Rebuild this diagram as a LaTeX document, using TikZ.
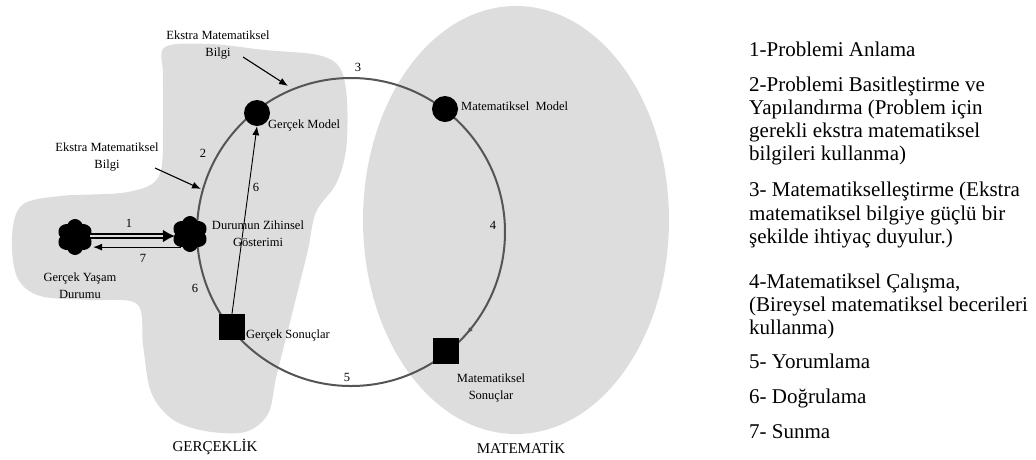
\documentclass[tikz,border=0pt]{standalone}
\usepackage{fontspec}
\setmainfont{Liberation Serif}
\usetikzlibrary{shapes.symbols,arrows.meta}
\definecolor{zone}{RGB}{221,221,221}
\definecolor{ring}{RGB}{85,85,85}
\begin{document}
\begin{tikzpicture}[x=1pt,y=-1pt,
  lbl/.style={font=\fontsize{12.5}{17}\selectfont, inner sep=0pt, align=center},
  num/.style={font=\fontsize{12.5}{15}\selectfont, inner sep=0pt},
  area/.style={font=\fontsize{15}{18}\selectfont, inner sep=0pt},
  listpar/.style={font=\fontsize{21}{23.3}\selectfont, inner sep=0pt, anchor=base west, align=left},
  flower/.style={cloud, cloud puffs=6, cloud puff arc=140, aspect=1, shape border rotate=0, fill=black, inner sep=0pt, minimum width=36pt, minimum height=36pt},
  dot/.style={circle, fill=black, inner sep=0pt, minimum size=26pt},
  sq/.style={rectangle, fill=black, inner sep=0pt, minimum size=26pt},
  thinarrow/.style={-{Latex[length=9pt,width=7pt]}, line width=1.1pt},
]
\useasboundingbox (0,0) rectangle (1036,459);

% reality region (irregular blob) and mathematics region (ellipse)
\fill[zone] plot[smooth cycle, tension=0.55] coordinates {
  (165,47) (210,44) (265,50) (318,55) (340,68) (347,100) (346,150)
  (336,184) (316,212) (308,250) (298,290) (286,338) (276,378) (268,414)
  (245,432) (205,431) (172,419) (151,392) (143,345) (137,304)
  (90,300) (40,296) (17,277) (12,236) (22,205) (60,196) (128,192)
  (159,176) (163,125) (163,75)};
\fill[zone] (516,220) ellipse [x radius=153, y radius=214];

% modelling cycle
\coordinate (c) at (351,232);
\draw[ring, line width=2pt] (c) circle [radius=154];

% stations of the cycle
\node[flower] (gy)  at (75,237)  {};
\node[flower] (dur) at (190,234) {};
\node[dot]    (gm)  at (257,113) {};
\node[dot]    (mm)  at (445,109) {};
\node[sq]     (gs)  at (232,327) {};
\node[sq]     (ms)  at (446,351) {};

% station labels
\node[lbl] (gyl)  at (80,286)  {Gerçek Yaşam\\Durumu};
\node[lbl] (durl) at (258,234) {Durumun Zihinsel\\Gösterimi};
\node[lbl, anchor=west] (gml) at (268,125) {Gerçek Model};
\node[lbl, anchor=west] (mml) at (461,106) {Matematiksel\ \ Model};
\node[lbl, anchor=west] (gsl) at (246,335) {Gerçek Sonuçlar};
\node[lbl] (msl)  at (491,388) {Matematiksel\\Sonuçlar};

% extra-mathematical knowledge pointers
\node[lbl] (ek1) at (218,45)  {Ekstra Matematiksel\\Bilgi};
\node[lbl] (ek2) at (107,157) {Ekstra Matematiksel\\Bilgi};
\coordinate (ek1s) at (243,57);
\coordinate (ek1t) at (288,86);
\coordinate (ek2s) at (155,168);
\coordinate (ek2t) at (201,189);
\draw[thinarrow] (ek1s) -- (ek1t);
\draw[thinarrow] (ek2s) -- (ek2t);

% 1: understanding (double-lined arrow)
\draw[line width=6.5pt, -{Latex[length=12pt,width=13pt]}] (gy.east |- 0,236) -- (dur.west |- 0,236);
\draw[zone, line width=1.8pt, shorten >=12pt] (gy.east |- 0,236) -- (dur.west |- 0,236);
% 7: presenting
\draw[thinarrow] (dur.235) -- ([xshift=3pt]gy.east |- dur.235);
% 6: validating
\draw[thinarrow, line width=0.9pt] (gs.north) -- (gm.south);
% direction mark on step 4
\coordinate (d4s) at (472,327.5);
\coordinate (d4t) at (467,333.5);
\draw[ring, line width=1.3pt, -{Latex[length=6pt,width=5pt]}] (d4s) -- (d4t);

% step numbers
\node[num] (n1)  at (129,223) {1};
\node[num] (n7)  at (143,258) {7};
\node[num] (n2)  at (203,153) {2};
\node[num] (n6a) at (195,288) {6};
\node[num] (n6b) at (256,187) {6};
\node[num] (n3)  at (358,67)  {3};
\node[num] (n4)  at (493,225) {4};
\node[num] (n5)  at (347,377) {5};

% region names
\node[area] (real) at (215,447) {GERÇEKLİK};
\node[area] (math) at (521,447) {MATEMATİK};

% legend (multi-line entries are placed by the baseline of their last line)
\node[listpar] (p1) at (749,56)    {1-Problemi Anlama};
\node[listpar] (p2) at (749,160.9) {2-Problemi Basitleştirme ve\\Yapılandırma (Problem için\\gerekli ekstra matematiksel\\bilgileri kullanma)};
\node[listpar] (p3) at (749,243.5) {3- Matematikselleştirme (Ekstra\\matematiksel bilgiye güçlü bir\\şekilde ihtiyaç duyulur.)};
\node[listpar] (p4) at (749,334.6) {4-Matematiksel Çalışma,\\(Bireysel matematiksel becerileri\\kullanma)};
\node[listpar] (p5) at (749,368)   {5- Yorumlama};
\node[listpar] (p6) at (749,403)   {6- Doğrulama};
\node[listpar] (p7) at (749,438)   {7- Sunma};
\end{tikzpicture}
\end{document}
